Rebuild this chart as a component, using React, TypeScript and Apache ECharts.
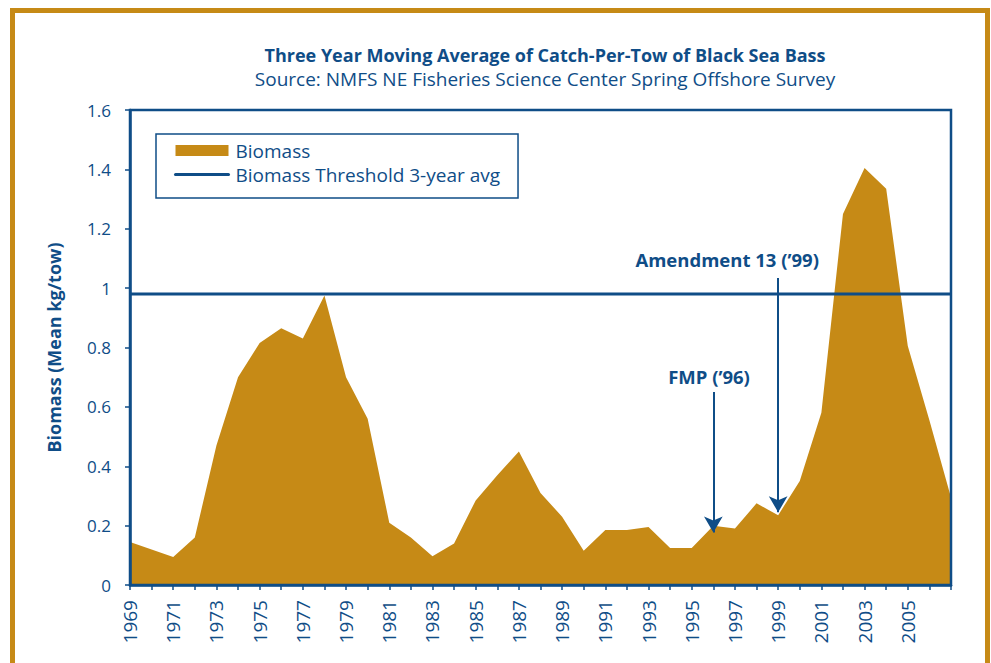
import React, { useEffect, useRef } from "react";
import * as echarts from "echarts";

const years: string[] = [
  "1969", "1970", "1971", "1972", "1973", "1974", "1975", "1976", "1977", "1978",
  "1979", "1980", "1981", "1982", "1983", "1984", "1985", "1986", "1987", "1988",
  "1989", "1990", "1991", "1992", "1993", "1994", "1995", "1996", "1997", "1998",
  "1999", "2000", "2001", "2002", "2003", "2004", "2005", "2006", "2007",
];
const tickLabels: string[] = [
  "1969", "1971", "1973", "1975", "1977", "1979", "1981", "1983", "1985", "1987",
  "1989", "1991", "1993", "1995", "1997", "1999", "2001", "2003", "2005",
];
const biomass: number[] = [
  0.145, 0.12, 0.094, 0.16, 0.47, 0.7, 0.815, 0.865, 0.83, 0.975,
  0.7, 0.56, 0.21, 0.16, 0.097, 0.14, 0.285, 0.37, 0.45, 0.31,
  0.23, 0.115, 0.185, 0.185, 0.195, 0.125, 0.125, 0.2, 0.19, 0.275,
  0.235, 0.35, 0.58, 1.25, 1.405, 1.335, 0.805, 0.555, 0.295,
];
const thresholdYears: string[] = ["1969", "2007"];
const thresholdValue = 0.98;

const annotationLabels: string[] = ["FMP (\u201996)", "Amendment 13 (\u201999)"];
// label centres as [year, value]
const annotationLabelPos: [number, number][] = [
  [1995.8, 0.704],
  [1996.64, 1.095],
];
const arrowYears: string[] = ["1996", "1999"];
const arrowFrom: number[] = [0.65, 1.034];
const arrowTo: number[] = [0.177, 0.245];

const GOLD = "#C68A16";
const NAVY = "#0F4D87";
const FONT = "'Open Sans', 'Noto Sans', sans-serif";

export default function App() {
  const ref = useRef<HTMLDivElement>(null);
  useEffect(() => {
    if (!ref.current) return;
    const chart = echarts.init(ref.current, null, { renderer: "svg" });
    const frame = {
      type: "rect",
      shape: { x: 12.5, y: 10.5, width: 975, height: 700 },
      style: { fill: "none", stroke: GOLD, lineWidth: 5 },
      silent: true,
    };
    const option: any = {
      animation: false,
      backgroundColor: "#ffffff",
      textStyle: { fontFamily: FONT },
      title: [
        {
          text: "Three Year Moving Average of Catch-Per-Tow of Black Sea Bass",
          left: 540,
          top: 41,
          textAlign: "center",
          textStyle: { fontFamily: FONT, fontSize: 18, fontWeight: "bold", color: NAVY },
        },
        {
          text: "Source: NMFS NE Fisheries Science Center Spring Offshore Survey",
          left: 540,
          top: 64,
          textAlign: "center",
          textStyle: { fontFamily: FONT, fontSize: 19, fontWeight: "normal", color: NAVY },
        },
      ],
      graphic: [frame],
      legend: {
        left: 156,
        top: 134,
        orient: "vertical",
        padding: [6, 18, 13, 18],
        itemGap: 3,
        itemWidth: 53,
        itemHeight: 11,
        borderColor: NAVY,
        borderWidth: 1.5,
        textStyle: {
          fontFamily: FONT,
          fontSize: 19,
          lineHeight: 21,
          color: NAVY,
          padding: [0, 0, 0, 2],
        },
        data: [
          { name: "Biomass", icon: "rect" },
          {
            name: "Biomass Threshold 3-year avg",
            itemStyle: { opacity: 0 },
            lineStyle: { width: 3, cap: "round" },
          },
        ],
      },
      grid: {
        left: 130,
        top: 110,
        right: 40,
        bottom: 78,
        show: true,
        z: 4,
        backgroundColor: "transparent",
        borderColor: NAVY,
        borderWidth: 2.5,
      },
      xAxis: [
        {
          type: "category",
          data: years,
          boundaryGap: false,
          z: 5,
          splitLine: { show: false },
          axisLine: { show: true, lineStyle: { color: NAVY, width: 2.5 } },
          axisTick: {
            show: true,
            interval: 0,
            length: 5,
            lineStyle: { color: NAVY, width: 1.5 },
          },
          axisLabel: { show: false },
        },
        {
          type: "value",
          min: 1969,
          max: 2007,
          show: false,
        },
      ],
      yAxis: {
        type: "value",
        min: 0,
        max: 1.6,
        interval: 0.2,
        z: 5,
        name: "Biomass (Mean kg/tow)",
        nameLocation: "middle",
        nameGap: 67,
        nameTextStyle: { fontFamily: FONT, fontSize: 18, fontWeight: "bold", color: NAVY },
        splitLine: { show: false },
        axisLine: { show: true, lineStyle: { color: NAVY, width: 2.5 } },
        axisTick: { show: true, length: 5, lineStyle: { color: NAVY, width: 1.5 } },
        axisLabel: { fontSize: 17, fontFamily: FONT, color: NAVY, margin: 19 },
      },
      series: [
        {
          name: "Biomass",
          type: "line",
          data: biomass,
          symbol: "none",
          itemStyle: { color: GOLD },
          lineStyle: { width: 0, color: GOLD },
          areaStyle: { color: GOLD, opacity: 1 },
          z: 2,
        },
        {
          name: "Biomass Threshold 3-year avg",
          type: "line",
          data: thresholdYears.map((y) => [y, thresholdValue]),
          symbol: "none",
          itemStyle: { color: NAVY },
          lineStyle: { width: 3, color: NAVY },
          z: 3,
          markLine: {
            silent: true,
            symbol: ["none", "arrow"],
            symbolSize: [14, 16],
            label: { show: false },
            itemStyle: { color: NAVY, opacity: 1 },
            lineStyle: { color: NAVY, width: 2, type: "solid", opacity: 1 },
            data: arrowYears.map((y, i) => [
              { coord: [y, arrowFrom[i]] },
              { coord: [y, arrowTo[i]] },
            ]),
          },
        },
        {
          name: "annotations",
          type: "scatter",
          xAxisIndex: 1,
          symbolSize: 0,
          itemStyle: { color: NAVY, opacity: 1 },
          data: annotationLabels.map((t, i) => ({ name: t, value: annotationLabelPos[i] })),
          label: {
            show: true,
            position: "inside",
            formatter: "{b}",
            fontFamily: FONT,
            fontSize: 18.5,
            fontWeight: "bold",
            color: NAVY,
            opacity: 1,
          },
          z: 6,
        },
      ],
    };
    chart.setOption(option);

    // Year tick labels, placed at the category axis' own tick positions
    const axisY = chart.convertToPixel({ yAxisIndex: 0 }, 0) as number;
    const labelEls = tickLabels.map((yr) => ({
      type: "text",
      x: chart.convertToPixel({ xAxisIndex: 0 }, yr) as number,
      y: axisY + 15,
      rotation: Math.PI / 2,
      silent: true,
      z: 10,
      style: {
        text: yr,
        fontSize: 19,
        fontFamily: FONT,
        fill: NAVY,
        align: "right",
        verticalAlign: "middle",
      },
    }));
    chart.setOption({ graphic: [frame, ...labelEls] });

    return () => chart.dispose();
  }, []);
  return (
    <div
      ref={ref}
      style={{ position: "fixed", left: 0, top: 0, width: 991, height: 663 }}
    />
  );
}
